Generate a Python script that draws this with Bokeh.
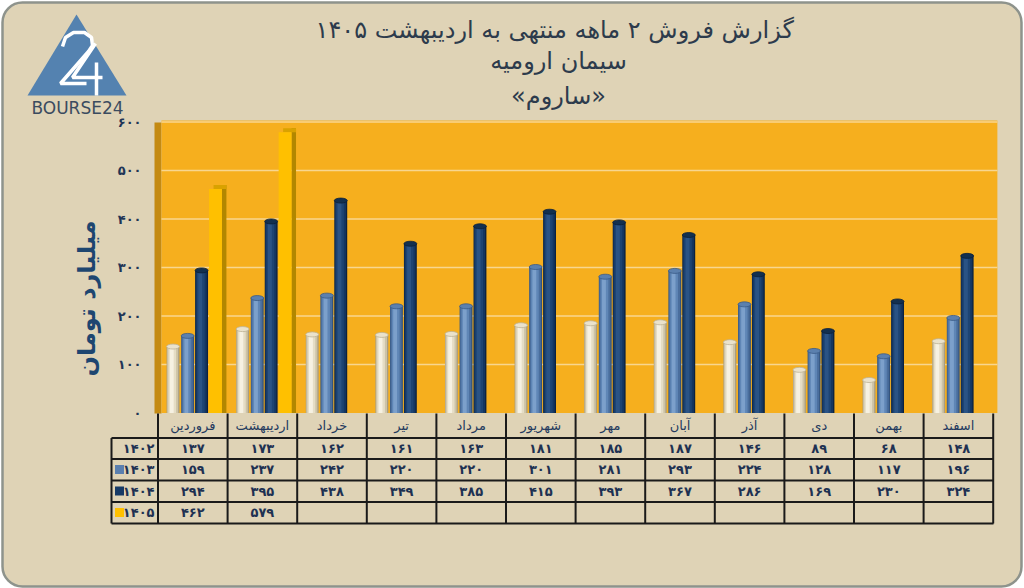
import math
from bokeh.plotting import figure
from bokeh.models import Range1d, ColumnDataSource, BoxAnnotation
from bokeh.transform import dodge
from bokeh.core.properties import value
from bokeh.embed import file_html
from bokeh.resources import INLINE

# ---------------- data ----------------
months = ["فروردین", "اردیبهشت", "خرداد", "تیر", "مرداد", "شهریور",
          "مهر", "آبان", "آذر", "دی", "بهمن", "اسفند"]
years = [1402, 1403, 1404, 1405]
s1402 = [137, 173, 162, 161, 163, 181, 185, 187, 146, 89, 68, 148]
s1403 = [159, 237, 242, 220, 220, 301, 281, 293, 224, 128, 117, 196]
s1404 = [294, 395, 438, 349, 385, 415, 393, 367, 286, 169, 230, 324]
s1405 = [462, 579]
y_ticks = [0, 100, 200, 300, 400, 500, 600]
title_lines = ["گزارش  فروش ۲ ماهه منتهی به اردیبهشت ۱۴۰۵", "سیمان ارومیه", "«ساروم»"]
y_label = "میلیارد تومان"

FA = "۰۱۲۳۴۵۶۷۸۹"
def fa(n):
    return "".join(FA[int(c)] for c in str(n))

# ---------------- layout ----------------
W_PX, H_PX = 1024, 588
X0, CW = 157.5, 69.6      # px of first category edge, px per category
Y0, PPU = 412.5, 0.485    # px of value 0, px per unit
FONT = value("DejaVu Sans")

p = figure(width=W_PX, height=H_PX, output_backend="svg", toolbar_location=None,
           x_range=Range1d(-0.5 - X0 / CW, -0.5 + (W_PX - X0) / CW),
           y_range=Range1d(-(H_PX - Y0) / PPU, Y0 / PPU),
           x_axis_location=None, y_axis_location=None, title_location=None,
           min_border=0, outline_line_color=None,
           background_fill_color="white", border_fill_color="white")
p.extra_x_ranges = {"px": Range1d(0, W_PX)}
p.extra_y_ranges = {"py": Range1d(H_PX, 0)}
p.grid.visible = False

# outer rounded panel
p.add_layout(BoxAnnotation(left=2, right=1021, top=2, bottom=586,
                           x_range_name="px", y_range_name="py",
                           fill_color="#DFD3B6", fill_alpha=1,
                           line_color="#8E938C", line_alpha=1, line_width=2.5,
                           line_dash="solid", border_radius=20, level="underlay"))

# plot wall and area
p.quad(left=[154], right=[161], top=[122], bottom=[413], x_range_name="px", y_range_name="py",
       fill_color="#C48A12", line_color=None)
p.quad(left=[-0.45], right=[11.56], bottom=[0], top=[603],
       fill_color="#F6AF1E", line_color=None)
grid_vals = y_ticks[1:]
p.segment(x0=[-0.45] * len(grid_vals), x1=[11.56] * len(grid_vals), y0=grid_vals, y1=grid_vals,
          line_color="#F8D690", line_width=1.3)

# bars
src = ColumnDataSource(dict(idx=list(range(12)), v1402=s1402, v1403=s1403, v1404=s1404,
                            month=months,
                            t1402=[fa(v) for v in s1402], t1403=[fa(v) for v in s1403],
                            t1404=[fa(v) for v in s1404]))
src5 = ColumnDataSource(dict(idx=list(range(len(s1405))), v1405=s1405,
                             t1405=[fa(v) for v in s1405]))

BW = 0.185
OFF = [-0.284, -0.074, 0.126, 0.326]
ELH = 5.0 / PPU

def cylinder(field, off, layers, top_fill, top_line):
    for wf, col, sh in layers:
        p.vbar(x=dodge("idx", off + sh * BW), top=field, bottom=0, width=BW * wf,
               fill_color=col, line_color=None, source=src)
    p.ellipse(x=dodge("idx", off), y=field, width=BW, height=ELH,
              fill_color=top_fill, line_color=top_line, line_width=0.8, source=src)

cylinder("v1402", OFF[0], [(1.0, "#A79D82", 0), (0.86, "#CDC3A6", -0.03),
                           (0.6, "#E5DDC5", -0.06), (0.3, "#F6F1E2", -0.1)],
         "#EAE2CC", "#BDB295")
cylinder("v1403", OFF[1], [(1.0, "#34547E", 0), (0.86, "#4A6E9D", -0.03),
                           (0.6, "#5F86B6", -0.06), (0.3, "#7CA0CB", -0.1)],
         "#5B80AE", "#3A5B86")
cylinder("v1404", OFF[2], [(1.0, "#0C2340", 0), (0.86, "#153660", -0.03),
                           (0.6, "#1D4473", -0.06), (0.3, "#2A5385", -0.1)],
         "#13304F", "#0B1F38")

# gold box bars
D = 4.5 / CW
p.quad(left=dodge("idx", OFF[3] + BW / 2), right=dodge("idx", OFF[3] + BW / 2 + D),
       top=dodge("v1405", 4 / PPU), bottom=0, fill_color="#B28700", line_color=None, source=src5)
p.quad(left=dodge("idx", OFF[3] - BW / 2 + D), right=dodge("idx", OFF[3] + BW / 2 + D),
       top=dodge("v1405", 4 / PPU), bottom="v1405", fill_color="#D9A200", line_color=None, source=src5)
p.vbar(x=dodge("idx", OFF[3]), top="v1405", bottom=0, width=BW,
       fill_color="#FFC000", line_color=None, source=src5)

# y tick labels
p.text(x=[141] * len(y_ticks), y=y_ticks, text=[fa(v) for v in y_ticks], x_range_name="px",
       text_align="right", text_baseline="middle", text_font=FONT, text_font_size="13px",
       text_font_style="bold", text_color="#1F3556")

# y axis label
p.text(x=[86], y=[298], text=[y_label], angle=math.pi / 2, x_range_name="px", y_range_name="py",
       text_align="center", text_baseline="middle", text_font=FONT, text_font_size="24px",
       text_font_style="bold", text_color="#1E4670")

# title
p.text(x=[558] * 3, y=[29, 60, 95], text=title_lines, x_range_name="px", y_range_name="py",
       text_align="center", text_baseline="middle", text_font=FONT, text_font_size="24px",
       text_color="#2D3B4C")

# table
row_y = [447.5, 469, 490.5, 512]
h_lines = [437.5, 458.5, 480, 501.5, 523]
bounds = [i - 0.5 for i in range(13)]
p.segment(x0=bounds, x1=bounds, y0=[413] * 13, y1=[523] * 13, y_range_name="py",
          line_color="#1A1A1A", line_width=2)
p.segment(x0=[111] * 5, x1=[993] * 5, y0=h_lines, y1=h_lines, x_range_name="px", y_range_name="py",
          line_color="#1A1A1A", line_width=2)
p.segment(x0=[111], x1=[111], y0=[437.5], y1=[523], x_range_name="px", y_range_name="py",
          line_color="#1A1A1A", line_width=2)

p.text(x="idx", y=425, text="month", source=src, y_range_name="py", text_align="center",
       text_baseline="middle", text_font=FONT, text_font_size="13px", text_color="#243A5E")
for field, ry, s in [("t1402", row_y[0], src), ("t1403", row_y[1], src),
                     ("t1404", row_y[2], src), ("t1405", row_y[3], src5)]:
    p.text(x="idx", y=ry, text=field, source=s, y_range_name="py", text_align="center",
           text_baseline="middle", text_font=FONT, text_font_size="13px",
           text_font_style="bold", text_color="#1E3152")

p.text(x=[154] * 4, y=row_y, text=[fa(y) for y in years], x_range_name="px", y_range_name="py",
       text_align="right", text_baseline="middle", text_font=FONT, text_font_size="13px",
       text_font_style="bold", text_color="#1E3152")
p.rect(x=[119] * 3, y=row_y[1:], width=9, height=9, x_range_name="px", y_range_name="py",
       fill_color=["#5A7FAF", "#173A66", "#FFC000"], line_color=None)

# logo
p.patch(x=[76, 27, 126], y=[14, 95, 95], x_range_name="px", y_range_name="py",
        fill_color="#5482B0", line_color=None)
p.multi_line(xs=[[62, 65, 73, 84, 91, 92, 88, 60, 86], [95, 72, 102], [96, 96]],
             ys=[[46, 37, 32, 32, 37, 45, 51, 83, 83], [43, 77, 77], [62, 95]],
             x_range_name="px", y_range_name="py", line_color="white", line_width=3.5)
p.text(x=[77], y=[107], text=["BOURSE24"], x_range_name="px", y_range_name="py",
       text_align="center", text_baseline="middle", text_font=FONT, text_font_size="17px",
       text_color="#3B4B5F")

open("out.html", "w").write(file_html(p, INLINE))
